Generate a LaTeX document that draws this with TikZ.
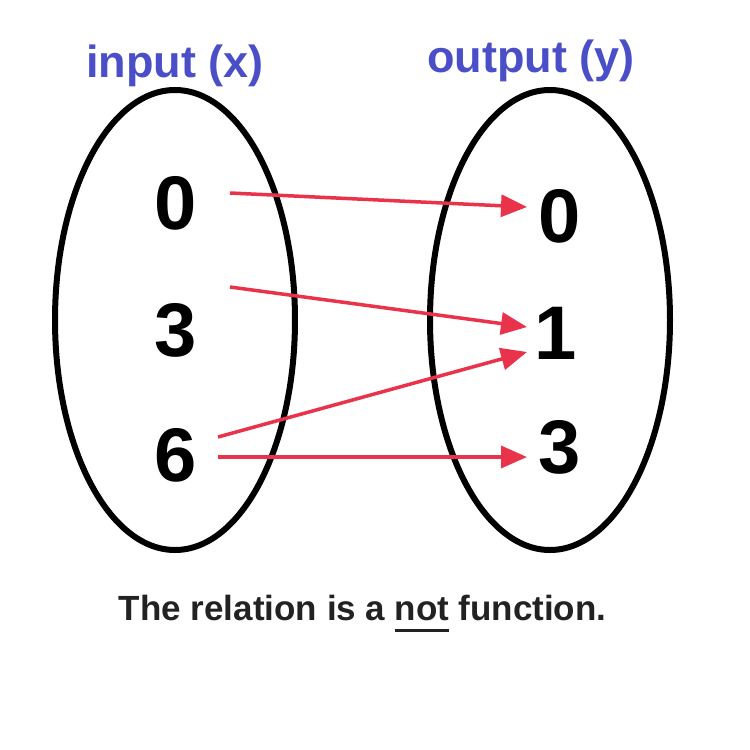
\documentclass[tikz,border=0pt]{standalone}
\usepackage{fontspec}
\setmainfont{Liberation Sans}
\usetikzlibrary{arrows.meta,calc}
\definecolor{ttl}{HTML}{4A4FC8}
\definecolor{arr}{HTML}{E8334A}
\definecolor{txt}{HTML}{222222}
\begin{document}
\begin{tikzpicture}[x=1pt,y=-1pt,
  num/.style={font=\fontsize{76}{76}\selectfont\bfseries},
  ttlst/.style={font=\fontsize{45}{45}\selectfont\bfseries,text=ttl},
  capst/.style={font=\fontsize{35}{35}\selectfont\bfseries,text=txt,inner sep=0pt},
  set/.style={draw,line width=6pt},
  mapar/.style={draw=arr,line width=3.5pt,-{Triangle[length=26pt,width=22pt]}}]
\useasboundingbox (0,0) rectangle (750,750);
\draw[set] (175,320) ellipse [x radius=120, y radius=230];
\draw[set] (550,320) ellipse [x radius=120, y radius=230];
\node[ttlst] (tin) at (175,66) {input (x)};
\node[ttlst] (tout) at (531,61) {output (y)};
\node[num] (a0) at (176,203) {0};
\node[num] (a3) at (176,330) {3};
\node[num] (a6) at (176,455) {6};
\node[num] (b0) at (560,216) {0};
\node[num] (b1) at (556,333) {1};
\node[num] (b3) at (560,447) {3};
\coordinate (s0) at (230,193);
\coordinate (s3) at (230,287);
\coordinate (s6a) at (218,437);
\coordinate (s6b) at (218,457);
\coordinate (e0) at (527,207);
\coordinate (e1a) at (527,327);
\coordinate (e1b) at (527,352);
\coordinate (e3) at (527,457);
\draw[mapar] (s0) -- (e0);
\draw[mapar] (s3) -- (e1a);
\draw[mapar] (s6a) -- (e1b);
\draw[mapar] (s6b) -- (e3);
\node[capst,anchor=base] (cnot) at (422,620) {not};
\node[capst,anchor=base east] (c1) at ($(cnot.base west)+(-9,0)$) {The relation is a};
\node[capst,anchor=base west] (c3) at ($(cnot.base east)+(9,0)$) {function.};
\draw[line width=3pt,txt] ($(cnot.base west)+(0,10)$) -- ($(cnot.base east)+(0,10)$);
\end{tikzpicture}
\end{document}
